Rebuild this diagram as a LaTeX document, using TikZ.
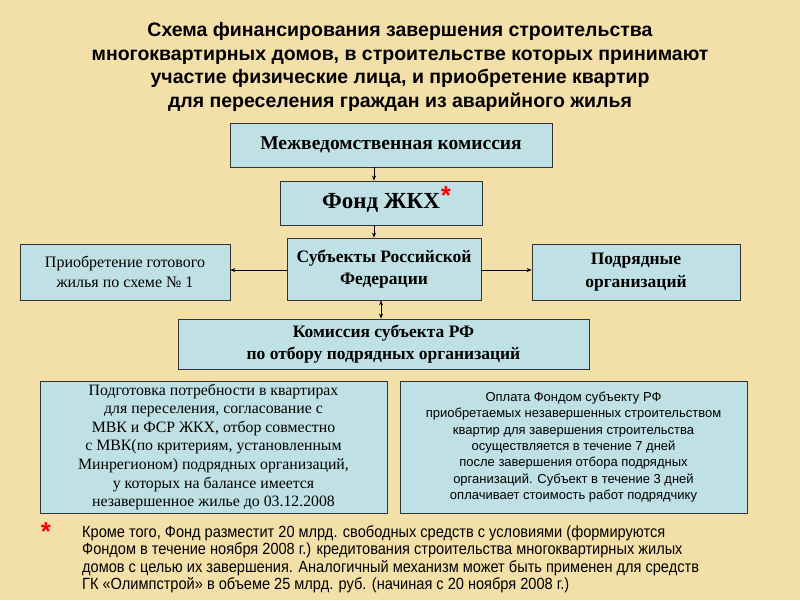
\documentclass[tikz,border=0pt]{standalone}
\usepackage{fontspec}
\setmainfont{Liberation Serif}
\newfontfamily\ars{Liberation Sans}
\newfontfamily\narrow[FakeStretch=0.9]{Liberation Sans}
\usetikzlibrary{arrows.meta}
\definecolor{bg}{HTML}{F3E0A9}
\definecolor{bx}{HTML}{BFE0E4}
\begin{document}
\begin{tikzpicture}[x=1pt,y=-1pt,
 box/.style={draw=black!80,line width=0.8pt,fill=bx,align=center,inner sep=2pt},
 arr/.style={-{Stealth[length=5pt,width=4pt]},line width=0.6pt}]
\fill[bg] (0,0) rectangle (800,600);
\useasboundingbox (0,0) rectangle (800,600);
\node[align=center,font=\ars\bfseries\fontsize{19.5}{23.5}\selectfont] (title) at (400,67)
 {Схема финансирования завершения строительства\\многоквартирных домов, в строительстве которых принимают\\участие физические лица, и приобретение квартир\\для переселения граждан из аварийного жилья};
\node[box,minimum width=322,minimum height=44,font=\bfseries\fontsize{19.5}{22}\selectfont] (mk) at (391,145) {Межведомственная комиссия};
\node[box,minimum width=202,minimum height=44,font=\bfseries\fontsize{23}{24}\selectfont] (fond) at (381,203) {Фонд ЖКХ};
\node[text=red,font=\ars\bfseries\fontsize{26}{26}\selectfont] (ast1) at (446,196) {*};
\node[box,minimum width=194,minimum height=62,font=\bfseries\fontsize{17.5}{22}\selectfont] (subj) at (384,269) {Субъекты Российской\\Федерации};
\node[box,minimum width=210,minimum height=56,font=\fontsize{16}{20}\selectfont] (pri) at (125,272) {Приобретение готового\\жилья по схеме № 1};
\node[box,minimum width=208,minimum height=56,font=\bfseries\fontsize{17.5}{23}\selectfont] (pod) at (636,272) {Подрядные\\организаций};
\node[box,minimum width=411,minimum height=50,font=\bfseries\fontsize{17.5}{22}\selectfont] (kom) at (383.5,344) {Комиссия субъекта РФ\\по отбору подрядных организаций};
\node[box,minimum width=347,minimum height=132,font=\fontsize{15.8}{18.6}\selectfont] (lb) at (213.5,447) {Подготовка потребности в квартирах\\для переселения, согласование с\\МВК и ФСР ЖКХ, отбор совместно\\с МВК(по критериям, установленным\\Минрегионом) подрядных организаций,\\у которых на балансе имеется\\незавершенное жилье до 03.12.2008};
\node[box,minimum width=347,minimum height=132,font=\ars\fontsize{13}{16.3}\selectfont] (rb) at (573.5,447) {Оплата Фондом субъекту РФ\\приобретаемых незавершенных строительством\\квартир для завершения строительства\\осуществляется в течение 7 дней\\после завершения отбора подрядных\\организаций. Субъект в течение 3 дней\\оплачивает стоимость работ подрядчику};
\draw[arr] (mk.south -| fond.north) ++(-7,0) coordinate (a1) -- (a1 |- fond.north);
\draw[arr] (fond.south) ++(-7,0) coordinate (a2) -- (a2 |- subj.north);
\draw[arr] ([yshift=-1pt]subj.west) coordinate (a4) -- (a4 -| pri.east);
\draw[arr] ([yshift=-1pt]subj.east) coordinate (a5) -- (a5 -| pod.west);
\draw[{Stealth[length=5pt,width=4pt]}-{Stealth[length=5pt,width=4pt]},line width=0.6pt] (subj.south) ++(-3,0) coordinate (a3) -- (a3 |- kom.north);
\node[text=red,font=\ars\bfseries\fontsize{26}{26}\selectfont] (ast2) at (46,532) {*};
\node[anchor=north west,align=left,font=\narrow\fontsize{16.2}{17.5}\selectfont,inner sep=0pt] (foot) at (82,525)
 {Кроме того, Фонд разместит 20 млрд. свободных средств с условиями (формируются\\Фондом в течение ноября 2008 г.) кредитования строительства многоквартирных жилых\\домов с целью их завершения. Аналогичный механизм может быть применен для средств\\ГК «Олимпстрой» в объеме 25 млрд. руб. (начиная с 20 ноября 2008 г.)};
\end{tikzpicture}
\end{document}
